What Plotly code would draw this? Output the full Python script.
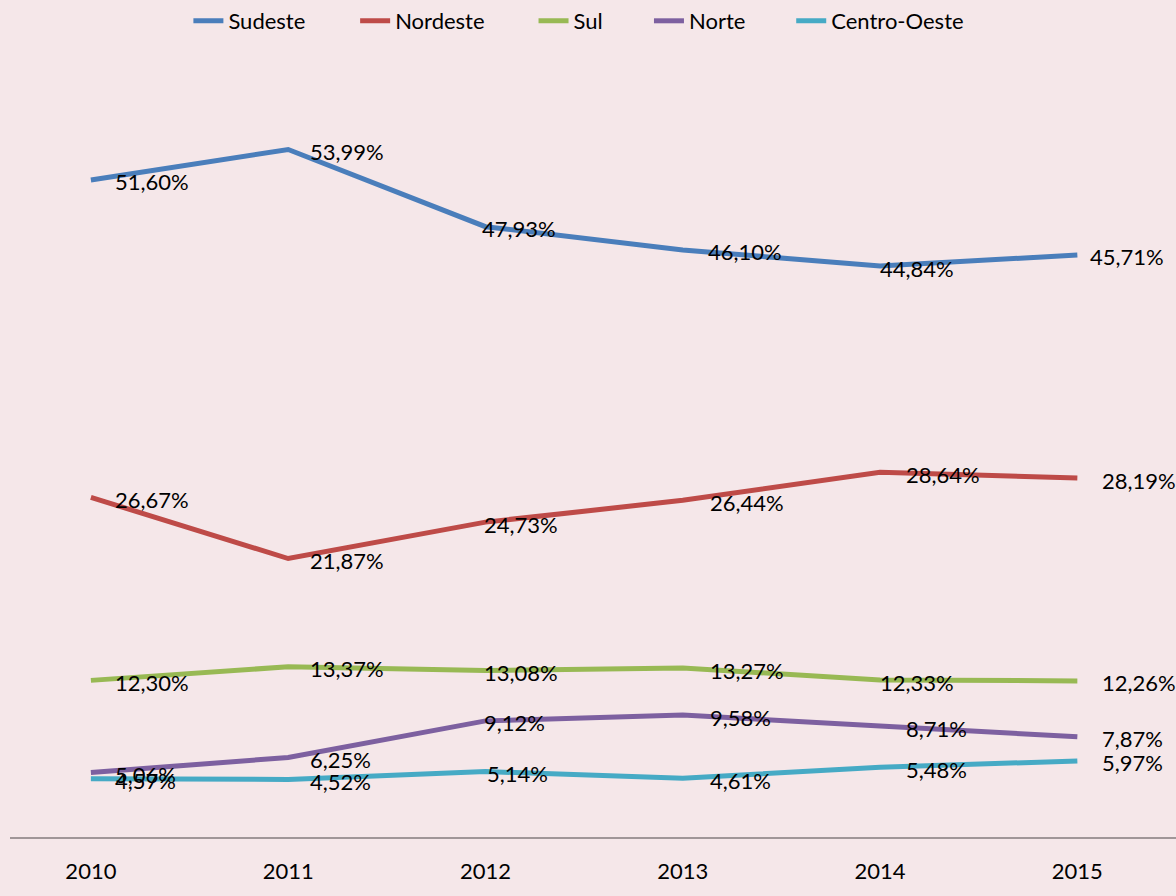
import plotly.graph_objects as go

years = ["2010", "2011", "2012", "2013", "2014", "2015"]
sudeste = [51.60, 53.99, 47.93, 46.10, 44.84, 45.71]
nordeste = [26.67, 21.87, 24.73, 26.44, 28.64, 28.19]
sul = [12.30, 13.37, 13.08, 13.27, 12.33, 12.26]
norte = [5.06, 6.25, 9.12, 9.58, 8.71, 7.87]
centro_oeste = [4.57, 4.52, 5.14, 4.61, 5.48, 5.97]

series = [
    ("Sudeste", sudeste, "#4A7EBB"),
    ("Nordeste", nordeste, "#BE4B48"),
    ("Sul", sul, "#98B954"),
    ("Norte", norte, "#7D60A0"),
    ("Centro-Oeste", centro_oeste, "#46AAC5"),
]

# horizontal pixel offsets of the data labels (style, per series / per year)
label_dx = {
    "Sudeste": [22, 20, -5, 23, -2, 11],
    "Nordeste": [22, 20, -3, 25, 24, 23],
    "Sul": [22, 20, -3, 25, -2, 23],
    "Norte": [22, 20, -3, 25, 24, 23],
    "Centro-Oeste": [22, 20, 0, 25, 24, 23],
}
# left edge of each legend entry (paper fraction)
legend_x = [0.153, 0.296, 0.449, 0.548, 0.670]

FONT = "Lato, 'Open Sans', sans-serif"

fig = go.Figure()
annotations = []
legend_layout = {}
for k, (name, vals, color) in enumerate(series):
    lname = "legend" if k == 0 else f"legend{k + 1}"
    fig.add_trace(go.Scatter(
        x=years, y=vals, name=name, mode="lines",
        line=dict(color=color, width=5),
        hoverinfo="skip", legend=lname,
    ))
    legend_layout[lname] = dict(
        orientation="h", x=legend_x[k], xanchor="left",
        y=1 - 21 / 896, yref="container", yanchor="middle",
        font=dict(family=FONT, size=22, color="#000000"),
        bgcolor="rgba(0,0,0,0)",
    )
    for i, (yr, v) in enumerate(zip(years, vals)):
        annotations.append(dict(
            x=i, y=v, xref="x", yref="y",
            text=f"{v:.2f}%".replace(".", ","),
            showarrow=False, xanchor="left", yanchor="middle",
            xshift=label_dx[name][i], yshift=-2,
            font=dict(family=FONT, size=22, color="#000000"),
        ))

bg = "#F5E7E9"
fig.update_layout(
    width=1176, height=896,
    paper_bgcolor=bg, plot_bgcolor=bg,
    margin=dict(l=10, r=0, t=73, b=59),
    font=dict(family=FONT, size=22, color="#000000"),
    showlegend=True,
    xaxis=dict(
        type="category", range=[-0.41, 5.5],
        showgrid=False, zeroline=False,
        showline=True, linecolor="#A09698", linewidth=2,
        ticks="", ticklabelstandoff=14,
        tickfont=dict(family=FONT, size=22, color="#000000"),
    ),
    yaxis=dict(
        range=[0, 60], visible=False, showgrid=False, zeroline=False,
    ),
    annotations=annotations,
    **legend_layout,
)

fig.write_html(
    "out.html",
    config={"displayModeBar": False},
    post_script="document.body.style.margin='0';document.body.style.padding='0';",
)
